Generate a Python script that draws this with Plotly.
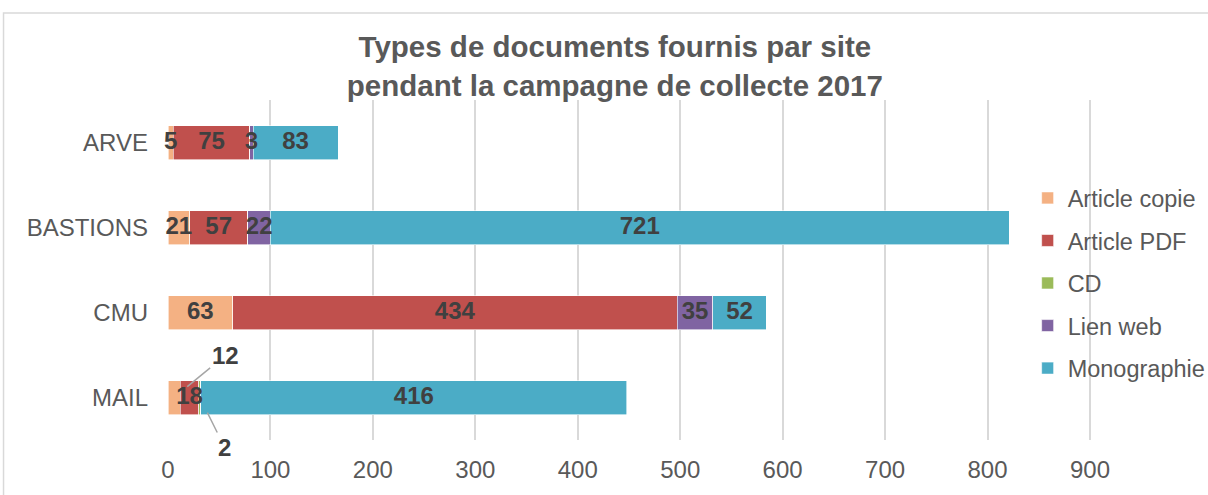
import plotly.graph_objects as go

sites = ["ARVE", "BASTIONS", "CMU", "MAIL"]
series_names = ["Article copie", "Article PDF", "CD", "Lien web", "Monographie"]
article_copie = [5, 21, 63, 12]
article_pdf = [75, 57, 434, 18]
cd = [0, 0, 0, 2]
lien_web = [3, 22, 35, 0]
monographie = [83, 721, 52, 416]
x_ticks = [0, 100, 200, 300, 400, 500, 600, 700, 800, 900]

series_values = [article_copie, article_pdf, cd, lien_web, monographie]
colors = ["#F4B183", "#C0504D", "#9BBB59", "#8064A2", "#4BACC6"]

# labels drawn outside with leader lines (site, series index, offset x, offset y)
outside_labels = [("MAIL", 0, 51, -42), ("MAIL", 2, 25, 50)]
outside_set = {(s, i) for s, i, _, _ in outside_labels}

FONT = "Liberation Sans, Arial"

fig = go.Figure()
for i, (name, vals, col) in enumerate(zip(series_names, series_values, colors)):
    fig.add_trace(go.Bar(
        y=sites, x=vals, name=name, orientation="h",
        marker=dict(color=col, line=dict(color="white", width=0.6)),
        legendgroup=name, hoverinfo="skip",
    ))

# inside data labels, drawn on top of all bars
lx, ly, lt = [], [], []
for i, vals in enumerate(series_values):
    for j, (s, v) in enumerate(zip(sites, vals)):
        if v == 0 or (s, i) in outside_set:
            continue
        start = sum(series_values[k][j] for k in range(i))
        lx.append(start + v / 2)
        ly.append(s)
        lt.append(str(v))
fig.add_trace(go.Scatter(
    x=lx, y=ly, text=lt, mode="text", textposition="middle center",
    textfont=dict(family=FONT, size=24, color="#404040", weight="bold"),
    showlegend=False, hoverinfo="skip", cliponaxis=False,
))

# leader-line labels
for s, i, axo, ayo in outside_labels:
    idx = sites.index(s)
    start = sum(series_values[k][idx] for k in range(i))
    val = series_values[i][idx]
    fig.add_annotation(
        x=start + val / 2, y=s, text="<b>%d</b>" % val,
        showarrow=True, arrowhead=0, arrowwidth=1.5, arrowcolor="#A6A6A6",
        ax=axo, ay=ayo, standoff=17,
        font=dict(family=FONT, size=24, color="#404040"),
    )

fig.add_shape(type="rect", xref="paper", yref="paper",
              x0=-0.178, x1=1.3, y0=-0.4, y1=1.256,
              line=dict(color="#D9D9D9", width=1.5), layer="below")

fig.update_layout(
    width=1208, height=495,
    barmode="stack", bargap=0.6,
    paper_bgcolor="white", plot_bgcolor="white",
    margin=dict(l=168, r=116, t=100, b=55, autoexpand=False),
    font=dict(family=FONT, color="#595959"),
    title=dict(
        text="<b>Types de documents fournis par site<br>pendant la campagne de collecte 2017</b>",
        x=0.509, xref="container", xanchor="center",
        y=0.884, yref="container", yanchor="middle",
        font=dict(family=FONT, size=29.5, color="#595959"),
    ),
    xaxis=dict(range=[0, 902], tickvals=x_ticks, showgrid=True, gridcolor="#D9D9D9",
               gridwidth=1.5, zeroline=False, showline=False, automargin=False,
               tickfont=dict(size=24, color="#595959"), ticklabelstandoff=13),
    yaxis=dict(range=[len(sites) - 0.5, -0.5], showgrid=False, zeroline=False,
               showline=False, automargin=False,
               tickfont=dict(size=24, color="#595959"), ticklabelstandoff=19),
    legend=dict(xref="container", yref="container",
                x=0.8507, xanchor="left", y=0.428, yanchor="middle",
                traceorder="grouped", tracegroupgap=9,
                font=dict(size=23.5, color="#595959"), bgcolor="rgba(0,0,0,0)"),
    showlegend=True,
)

fig.write_html("out.html", post_script="document.body.style.margin='0px';",
               config={"displayModeBar": False})
